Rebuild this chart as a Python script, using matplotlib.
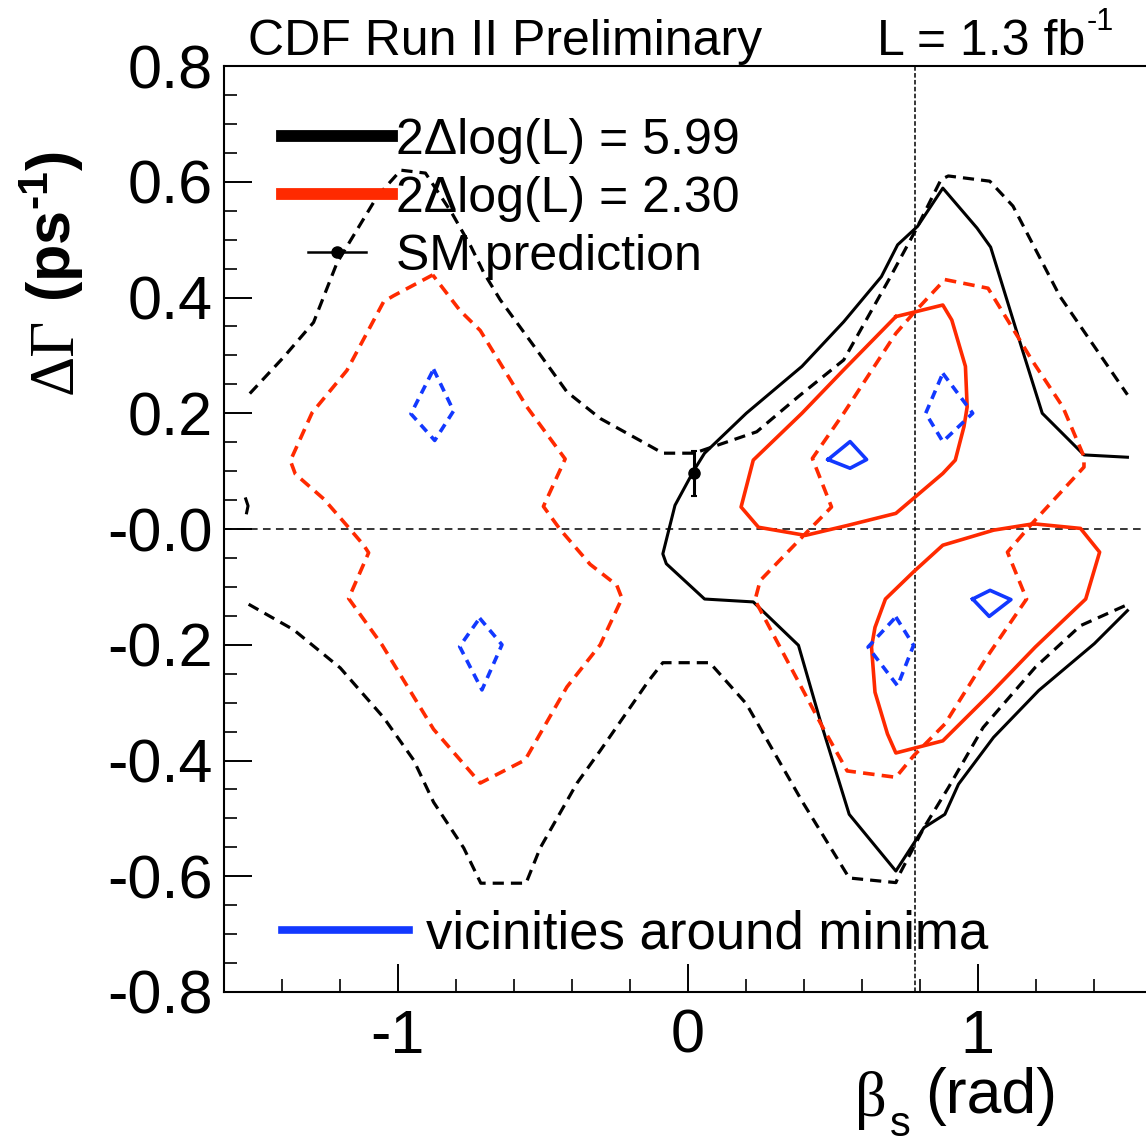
import matplotlib
matplotlib.use('Agg')
import matplotlib.pyplot as plt
from matplotlib.lines import Line2D
from matplotlib.legend_handler import HandlerLine2D
import numpy as np

plt.rcParams['font.family'] = ['Liberation Sans', 'DejaVu Sans']
plt.rcParams['mathtext.fontset'] = 'custom'
plt.rcParams['mathtext.rm'] = 'Liberation Sans'
plt.rcParams['mathtext.it'] = 'Liberation Sans:italic'
plt.rcParams['mathtext.bf'] = 'Liberation Sans:bold'

RED = '#ff2a00'
BLUE = '#1238ff'

# --- contour data (beta_s [rad], DeltaGamma [ps^-1]) ---
# 2 dlog(L) = 5.99, solid
beta_k_solid = [1.517, 1.367, 1.223, 1.151, 1.045, 0.998, 0.880, 0.793, 0.724, 0.668,
                0.538, 0.394, 0.202, 0.058, 0.022, -0.044, -0.086, -0.074, 0.058, 0.226,
                0.382, 0.454, 0.557, 0.718, 0.815, 0.887, 0.934, 1.055, 1.211, 1.403, 1.517]
dg_k_solid = [0.124, 0.128, 0.200, 0.315, 0.487, 0.520, 0.589, 0.523, 0.491, 0.436,
              0.358, 0.281, 0.200, 0.131, 0.102, 0.041, -0.043, -0.060, -0.121, -0.126,
              -0.201, -0.326, -0.493, -0.591, -0.516, -0.493, -0.441, -0.360, -0.279, -0.198, -0.141]
beta_k_solid_edge = [-1.525, -1.517, -1.522]
dg_k_solid_edge = [0.052, 0.040, 0.028]

# 2 dlog(L) = 5.99, dashed
beta_k_dash_up = [-1.511, -1.394, -1.291, -1.210, -1.071, -0.990, -0.905, -0.814, -0.748, -0.704,
                  -0.647, -0.532, -0.417, -0.302, -0.136, -0.086, 0.022, 0.238, 0.382, 0.538,
                  0.694, 0.787, 0.874, 0.899, 1.042, 1.122, 1.284, 1.517]
dg_k_dash_up = [0.234, 0.297, 0.357, 0.460, 0.575, 0.620, 0.615, 0.546, 0.488, 0.443,
                0.396, 0.317, 0.237, 0.191, 0.145, 0.131, 0.131, 0.168, 0.229, 0.292,
                0.431, 0.517, 0.604, 0.610, 0.601, 0.558, 0.402, 0.232]
beta_k_dash_lo = [-1.515, -1.360, -1.199, -1.049, -0.946, -0.877, -0.773, -0.714, -0.558, -0.509,
                  -0.382, -0.302, -0.136, -0.086, 0.076, 0.202, 0.394, 0.557, 0.718, 0.730,
                  0.815, 0.899, 1.019, 1.199, 1.355, 1.511]
dg_k_dash_lo = [-0.130, -0.174, -0.240, -0.326, -0.399, -0.472, -0.551, -0.612, -0.612, -0.551,
                -0.439, -0.383, -0.263, -0.231, -0.231, -0.302, -0.470, -0.603, -0.611, -0.597,
                -0.516, -0.447, -0.343, -0.239, -0.167, -0.132]

# 2 dlog(L) = 2.30, solid
beta_r_solid_a = [0.718, 0.880, 0.911, 0.958, 0.964, 0.953, 0.923, 0.880, 0.718, 0.550,
                  0.406, 0.244, 0.184, 0.226, 0.394, 0.538, 0.718]
dg_r_solid_a = [0.367, 0.387, 0.361, 0.281, 0.211, 0.177, 0.119, 0.096, 0.027, 0.006,
                -0.011, 0.003, 0.038, 0.119, 0.200, 0.275, 0.367]
beta_r_solid_b = [1.193, 1.355, 1.421, 1.373, 1.199, 1.043, 0.880, 0.718, 0.689, 0.646,
                  0.634, 0.646, 0.682, 0.779, 0.880, 1.055, 1.193]
dg_r_solid_b = [0.009, 0.001, -0.040, -0.121, -0.204, -0.285, -0.366, -0.387, -0.354, -0.282,
                -0.204, -0.170, -0.121, -0.074, -0.028, -0.002, 0.009]

# 2 dlog(L) = 2.30, dashed
beta_r_dash_a = [-0.880, -1.015, -1.049, -1.176, -1.296, -1.371, -1.354, -1.256, -1.176, -1.118,
                 -1.101, -1.170, -1.055, -0.877, -0.716, -0.561, -0.417, -0.302, -0.227, -0.245,
                 -0.337, -0.440, -0.498, -0.423, -0.555, -0.716, -0.785, -0.880]
dg_r_dash_a = [0.439, 0.403, 0.393, 0.274, 0.201, 0.118, 0.095, 0.052, 0.006, -0.028,
               -0.041, -0.120, -0.200, -0.346, -0.439, -0.399, -0.273, -0.200, -0.120, -0.097,
               -0.061, -0.001, 0.039, 0.121, 0.211, 0.343, 0.377, 0.439]
beta_r_dash_b = [0.887, 1.036, 1.139, 1.187, 1.294, 1.367, 1.367, 1.187, 1.103, 1.169,
                 1.031, 0.887, 0.779, 0.718, 0.550, 0.466, 0.232, 0.250, 0.406, 0.496,
                 0.430, 0.538, 0.718, 0.779, 0.887]
dg_r_dash_b = [0.431, 0.416, 0.332, 0.292, 0.211, 0.125, 0.107, 0.009, -0.040, -0.121,
               -0.222, -0.337, -0.392, -0.429, -0.418, -0.343, -0.123, -0.089, -0.008, 0.038,
               0.122, 0.200, 0.338, 0.373, 0.431]

# vicinities around minima
beta_b_solid = [[0.484, 0.560, 0.617, 0.560, 0.484], [0.983, 1.043, 1.115, 1.040, 0.983]]
dg_b_solid = [[0.120, 0.151, 0.120, 0.105, 0.120], [-0.121, -0.106, -0.122, -0.151, -0.121]]
beta_b_dash = [[-0.877, -0.808, -0.873, -0.955, -0.877], [-0.718, -0.641, -0.710, -0.787, -0.718],
               [0.880, 0.983, 0.880, 0.821, 0.880], [0.718, 0.779, 0.724, 0.622, 0.718]]
dg_b_dash = [[0.276, 0.204, 0.153, 0.199, 0.276], [-0.154, -0.200, -0.278, -0.203, -0.154],
             [0.269, 0.200, 0.151, 0.200, 0.269], [-0.152, -0.201, -0.271, -0.204, -0.152]]

# SM prediction
sm_beta = 0.02
sm_dg = 0.096
sm_dg_err = 0.039
ref_beta = 0.785

x_ticks = [-1, 0, 1]
x_tick_labels = ['-1', '0', '1']
y_ticks = [-0.8, -0.6, -0.4, -0.2, 0.0, 0.2, 0.4, 0.6, 0.8]
y_tick_labels = ['-0.8', '-0.6', '-0.4', '-0.2', '-0.0', '0.2', '0.4', '0.6', '0.8']


class ShortLineHandler(HandlerLine2D):
    # legend handle with the line shortened around the marker
    def create_artists(self, legend, orig_handle, xdescent, ydescent, width, height, fontsize, trans):
        arts = super().create_artists(legend, orig_handle, xdescent, ydescent,
                                      width, height, fontsize, trans)
        x = np.asarray(arts[0].get_xdata(), float)
        mid = x.mean()
        arts[0].set_xdata(mid + (x - mid) * 0.52)
        return arts


W, H = 1146, 1143
fig = plt.figure(figsize=(W / 100, H / 100), dpi=100)
ax = fig.add_axes([224 / W, 151 / H, (W - 224) / W, (992 - 66) / H])

# reference lines
ax.axhline(0.0, color='k', lw=1.1, dashes=(5, 3.5))
ax.axvline(ref_beta, color='k', lw=1.1, dashes=(3, 1.5))

# contours
ax.plot(beta_k_solid, dg_k_solid, color='k', lw=2.2)
ax.plot(beta_k_solid_edge, dg_k_solid_edge, color='k', lw=2.2)
ax.plot(beta_k_dash_up, dg_k_dash_up, color='k', lw=2.3, dashes=(3.5, 2.2))
ax.plot(beta_k_dash_lo, dg_k_dash_lo, color='k', lw=2.3, dashes=(3.5, 2.2))
ax.plot(beta_r_solid_a, dg_r_solid_a, color=RED, lw=2.6)
ax.plot(beta_r_solid_b, dg_r_solid_b, color=RED, lw=2.6)
ax.plot(beta_r_dash_a, dg_r_dash_a, color=RED, lw=2.6, dashes=(3.2, 2.0))
ax.plot(beta_r_dash_b, dg_r_dash_b, color=RED, lw=2.6, dashes=(3.2, 2.0))
for bx, by in zip(beta_b_solid, dg_b_solid):
    ax.plot(bx, by, color=BLUE, lw=2.6)
for bx, by in zip(beta_b_dash, dg_b_dash):
    ax.plot(bx, by, color=BLUE, lw=2.6, dashes=(2.5, 1.8))

ax.errorbar([sm_beta], [sm_dg], yerr=[sm_dg_err], fmt='o', color='k', ms=8,
            elinewidth=2.2, capsize=2.5, capthick=1.5)

# axes style
ax.set_xlim(-1.6, 1.581)
ax.set_ylim(-0.8, 0.8)
ax.set_xticks(x_ticks)
ax.set_xticklabels(x_tick_labels)
ax.set_yticks(y_ticks)
ax.set_yticklabels(y_tick_labels)
ax.set_xticks(np.arange(-1.4, 1.6, 0.2), minor=True)
ax.set_yticks(np.arange(-0.8, 0.81, 0.05), minor=True)
ax.tick_params(which='major', direction='in', length=20, width=1.4, labelsize=44, pad=8)
ax.tick_params(axis='x', which='major', pad=12)
ax.tick_params(which='minor', direction='in', length=9.5, width=1.2)
ax.tick_params(top=False, right=False, which='both')
for s in ['left', 'bottom', 'top']:
    ax.spines[s].set_linewidth(1.5)
ax.spines['right'].set_visible(False)

# legends
h1 = Line2D([], [], color='k', lw=8.5)
h2 = Line2D([], [], color=RED, lw=8.5)
h3 = Line2D([], [], color='k', lw=1.8, marker='o', ms=8)
leg1 = ax.legend([h1, h2, h3], ['2\u0394log(L) = 5.99', '2\u0394log(L) = 2.30', 'SM prediction'],
                 loc='upper left', bbox_to_anchor=(0.063, 0.944), frameon=False,
                 fontsize=36, handlelength=2.2, handletextpad=0.08, labelspacing=0.24,
                 borderpad=0, borderaxespad=0, handler_map={h3: ShortLineHandler()})
ax.add_artist(leg1)
h4 = Line2D([], [], color=BLUE, lw=5.5)
ax.legend([h4], ['vicinities around minima'], loc='center left',
          bbox_to_anchor=(0.063, 0.062), frameon=False, fontsize=38,
          handlelength=2.4, handletextpad=0.32, borderpad=0, borderaxespad=0)

# header texts
fig.text(248 / W, 1 - 55 / H, 'CDF Run II Preliminary', fontsize=36, va='baseline')
fig.text(877 / W, 1 - 55 / H, 'L = 1.3 fb', fontsize=36, va='baseline')
fig.text(1087 / W, 1 - 30 / H, '-1', fontsize=22, va='baseline')

# axis titles
fig.text(57 / W, 1 - 356 / H, '\u0394\u0393', family='Liberation Serif', fontsize=45,
         rotation=90, ha='center', va='center')
fig.text(52 / W, 1 - 226 / H, '(ps$^{\\mathbf{\u2010}\\mathbf{1}}$)', fontsize=44,
         fontweight='bold', rotation=90, ha='center', va='center')
fig.text(855 / W, 1 - 1100 / H, '\u03b2', family='Liberation Serif', fontsize=45,
         ha='left', va='center')
fig.text(890 / W, 1 - 1125 / H, 's', fontsize=30, ha='left', va='center')
fig.text(925 / W, 1 - 1097 / H, '(rad)', fontsize=45, ha='left', va='center')

fig.savefig('out.png', dpi=100)
